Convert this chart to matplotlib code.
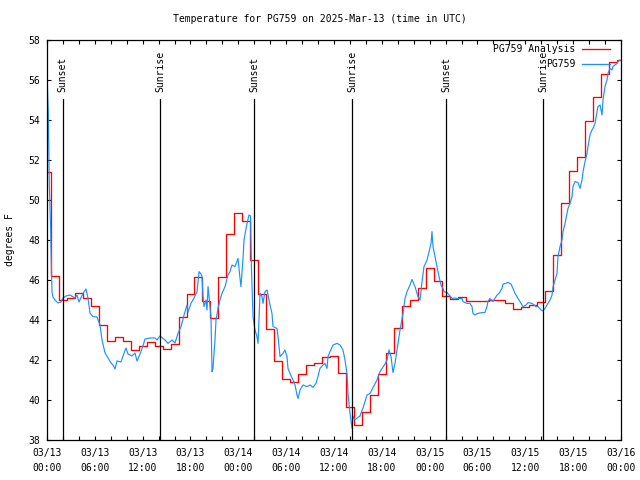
import matplotlib
matplotlib.use('Agg')
import matplotlib.pyplot as plt
import matplotlib.dates as mdates
from matplotlib.ticker import MultipleLocator
from datetime import datetime, timedelta

plt.rcParams['font.family'] = ['DejaVu Sans Mono']
plt.rcParams['font.size'] = 7

start = datetime(2025, 3, 13, 0, 0)

# Hourly analysis values (hours since start)
analysis_hours = list(range(73))
analysis_temps = [
    51.4, 46.2, 45.0, 45.1, 45.35, 45.1, 44.7, 43.75, 42.95, 43.17,
    42.95, 42.5, 42.7, 42.9, 42.7, 42.55, 42.8, 44.13, 45.28, 46.13,
    44.97, 44.08, 46.17, 48.3, 49.33, 48.95, 47.0, 45.3, 43.55, 41.95,
    41.03, 40.88, 41.28, 41.73, 41.83, 42.13, 42.18, 41.37, 39.67, 38.75,
    39.38, 40.25, 41.3, 42.33, 43.58, 44.72, 45.0, 45.58, 46.58, 45.95,
    45.2, 45.07, 45.13, 44.95, 44.95, 44.95, 45.0, 45.0, 44.83, 44.53,
    44.67, 44.75, 44.88, 45.45, 47.25, 49.83, 51.47, 52.13, 53.95, 55.13,
    56.3, 56.92, 57.0]

# Observations (hours since start, deg F)
obs_hours = [
    0.0, 0.09, 0.16, 0.29, 0.46, 0.56, 0.63, 0.75, 1.0, 1.38, 1.76, 2.0, 2.38, 2.89,
    3.51, 3.76, 4.01, 4.52, 4.89, 5.14, 5.39, 5.77, 6.27, 6.65, 6.9, 7.28, 7.65, 8.03,
    8.28, 8.53, 8.78, 9.28, 9.53, 9.91, 10.16, 10.66, 11.04, 11.29, 11.67, 12.04, 12.29,
    12.92, 13.55, 13.8, 14.17, 14.8, 15.18, 15.68, 16.06, 16.43, 16.81, 17.19, 17.56,
    17.69, 18.06, 18.44, 18.82, 19.07, 19.32, 19.44, 19.57, 19.69, 19.94, 20.07, 20.2,
    20.32, 20.57, 20.7, 20.82, 21.07, 21.2, 21.45, 21.7, 21.95, 22.33, 22.7, 22.95,
    23.21, 23.58, 23.96, 24.21, 24.33, 24.59, 24.71, 25.09, 25.34, 25.53, 25.65, 25.84,
    26.09, 26.34, 26.47, 26.59, 26.72, 26.97, 27.09, 27.35, 27.6, 27.72, 27.97, 28.22,
    28.35, 28.85, 28.98, 29.23, 29.6, 29.85, 30.1, 30.23, 30.48, 30.86, 31.11, 31.36,
    31.49, 31.74, 32.11, 32.61, 32.99, 33.37, 33.74, 33.99, 34.24, 34.62, 34.87, 35.12,
    35.25, 35.5, 35.88, 36.38, 36.75, 37.13, 37.38, 37.63, 37.76, 38.01, 38.26, 38.38,
    38.64, 38.89, 39.26, 39.64, 40.14, 40.52, 40.89, 41.39, 41.77, 42.15, 42.4, 42.65,
    42.9, 43.15, 43.4, 43.65, 43.9, 44.28, 44.66, 44.91, 45.16, 45.53, 45.78, 46.16,
    46.54, 46.79, 47.04, 47.29, 47.67, 47.92, 48.17, 48.29, 48.42, 48.67, 48.92, 49.17,
    49.42, 49.67, 49.8, 50.18, 50.43, 50.8, 51.18, 51.56, 52.06, 52.18, 52.68, 53.05,
    53.31, 53.43, 53.68, 54.06, 54.56, 54.94, 55.19, 55.31, 55.56, 55.94, 56.19, 56.45,
    56.7, 57.07, 57.2, 57.57, 57.82, 58.2, 58.45, 58.7, 59.08, 59.46, 59.71, 60.08,
    60.34, 60.84, 61.09, 61.34, 61.59, 61.97, 62.22, 62.47, 62.85, 63.1, 63.35, 63.48,
    63.72, 63.97, 64.1, 64.35, 64.6, 64.73, 64.98, 65.23, 65.35, 65.61, 65.86, 65.98,
    66.23, 66.61, 66.86, 67.11, 67.24, 67.49, 67.74, 67.86, 68.11, 68.36, 68.49, 68.74,
    68.99, 69.11, 69.37, 69.62, 69.74, 69.99, 70.24, 70.37, 70.62, 70.87, 70.99, 71.25,
    71.5, 71.62, 71.87]
obs_temps = [
    56.3, 55.2, 54.4, 50.8, 48.5, 46.5, 45.4, 45.15, 45.0, 44.85, 44.9, 45.1, 45.2, 45.25,
    45.1, 45.25, 44.9, 45.33, 45.55, 45.1, 44.35, 44.17, 44.15, 43.75, 43.0, 42.35, 42.1, 41.85,
    41.75, 41.55, 41.95, 41.9, 42.2, 42.6, 42.3, 42.2, 42.35, 41.95, 42.3, 42.7, 43.05,
    43.1, 43.1, 43.0, 43.2, 43.0, 42.83, 43.0, 42.85, 43.33, 43.67, 44.25, 44.75,
    44.4, 44.83, 45.1, 45.42, 46.42, 46.3, 46.17, 45.17, 44.67, 45.0, 44.5, 45.67,
    45.17, 44.17, 41.42, 41.58, 43.0, 44.0, 44.58, 45.0, 45.33, 45.67, 46.25, 46.42,
    46.75, 46.67, 47.08, 46.08, 45.67, 47.08, 48.0, 48.83, 49.25, 49.2, 46.5, 44.17,
    43.5, 43.17, 42.83, 44.0, 45.33, 45.17, 44.83, 45.42, 45.5, 45.25, 44.75, 44.33,
    43.67, 43.58, 43.17, 42.17, 42.33, 42.5, 42.17, 41.58, 41.33, 41.0, 40.75, 40.25,
    40.08, 40.5, 40.75, 40.67, 40.75, 40.63, 40.83, 41.17, 41.58, 41.75, 41.83, 41.58,
    42.17, 42.42, 42.75, 42.83, 42.75, 42.5, 42.0, 41.33, 40.33, 39.33, 38.58, 39.2,
    39.0, 39.1, 39.2, 39.6, 40.25, 40.33, 40.62, 41.0, 41.42, 41.65, 41.8, 42.0,
    42.5, 42.17, 41.37, 41.83, 42.5, 43.5, 44.33, 45.08, 45.42, 45.75, 46.03, 45.67,
    45.17, 45.0, 45.92, 46.67, 47.0, 47.42, 47.83, 48.42, 47.67, 47.17, 46.67, 46.17,
    45.75, 45.58, 45.42, 45.37, 45.25, 45.08, 45.1, 45.07, 45.07, 44.92, 44.83, 44.83,
    44.67, 44.33, 44.25, 44.33, 44.37, 44.38, 44.67, 44.92, 45.08, 44.92, 45.08, 45.25,
    45.33, 45.58, 45.8, 45.83, 45.88, 45.8, 45.58, 45.33, 45.08, 44.83, 44.67, 44.75,
    44.87, 44.83, 44.75, 44.67, 44.67, 44.5, 44.45, 44.58, 44.83, 45.0, 45.25, 45.67,
    46.0, 46.33, 47.17, 47.67, 48.0, 48.42, 48.83, 49.33, 49.58, 49.83, 50.17, 50.67,
    50.92, 50.87, 50.58, 51.0, 51.42, 51.92, 52.33, 52.67, 53.25, 53.5, 53.58, 53.83,
    54.42, 54.67, 54.75, 54.25, 55.0, 55.67, 56.0, 56.33, 56.58, 56.5, 56.67, 56.75,
    56.83, 56.92, 57.0]

sun_event_hours = [1.95, 14.22, 26.0, 38.27, 50.08, 62.25]
sun_event_labels = ['Sunset', 'Sunrise', 'Sunset', 'Sunrise', 'Sunset', 'Sunrise']

title = 'Temperature for PG759 on 2025-Mar-13 (time in UTC)'
series_labels = ['PG759 Analysis', 'PG759']
colors = ['#ff0000', '#1e90ff']

to_dt = lambda h: start + timedelta(hours=h)
a_x = [to_dt(h) for h in analysis_hours]
o_x = [to_dt(h) for h in obs_hours]

fig = plt.figure(figsize=(6.4, 4.8), dpi=100)
ax = fig.add_axes([47/640, 40/480, 574/640, 400/480])

ax.plot(a_x, analysis_temps, drawstyle='steps-mid', color=colors[0], lw=0.95)
ax.plot(o_x, obs_temps, color=colors[1], lw=0.85)

for h, lab in zip(sun_event_hours, sun_event_labels):
    t = to_dt(h)
    ax.plot([t, t], [38, 55.05], color='black', lw=0.9)
    ax.text(t, 55.4, lab, rotation=90, ha='center', va='bottom', fontsize=7)

ax.set_xlim(start, start + timedelta(hours=72))
ax.set_ylim(38, 58)
ax.yaxis.set_major_locator(MultipleLocator(2))
ax.xaxis.set_major_locator(mdates.HourLocator(byhour=[0, 6, 12, 18]))
ax.xaxis.set_minor_locator(mdates.HourLocator(byhour=list(range(0, 24, 2))))
ax.xaxis.set_major_formatter(mdates.DateFormatter('%m/%d\n%H:%M'))
for lbl in ax.get_xticklabels():
    lbl.set_linespacing(1.55)
ax.tick_params(which='both', direction='in', top=True, right=True, length=3, width=0.8)
ax.tick_params(axis='x', pad=6)
ax.tick_params(axis='y', pad=5)
for s in ax.spines.values():
    s.set_linewidth(0.9)

# legend (right-aligned text, sample line after)
for i, (lab, c) in enumerate(zip(series_labels, colors)):
    yy = 0.9775 - i * 0.0375
    ax.text(0.92, yy, lab, transform=ax.transAxes, ha='right', va='center', fontsize=7)
    ax.plot([0.932, 0.981], [yy, yy], transform=ax.transAxes, color=c, lw=0.95)

fig.text(0.5, 1 - 19/480, title, ha='center', va='center', fontsize=7)
fig.text(10/640, 0.5, 'degrees F', rotation=90, ha='center', va='center', fontsize=7)

fig.savefig('out.png', dpi=100)
